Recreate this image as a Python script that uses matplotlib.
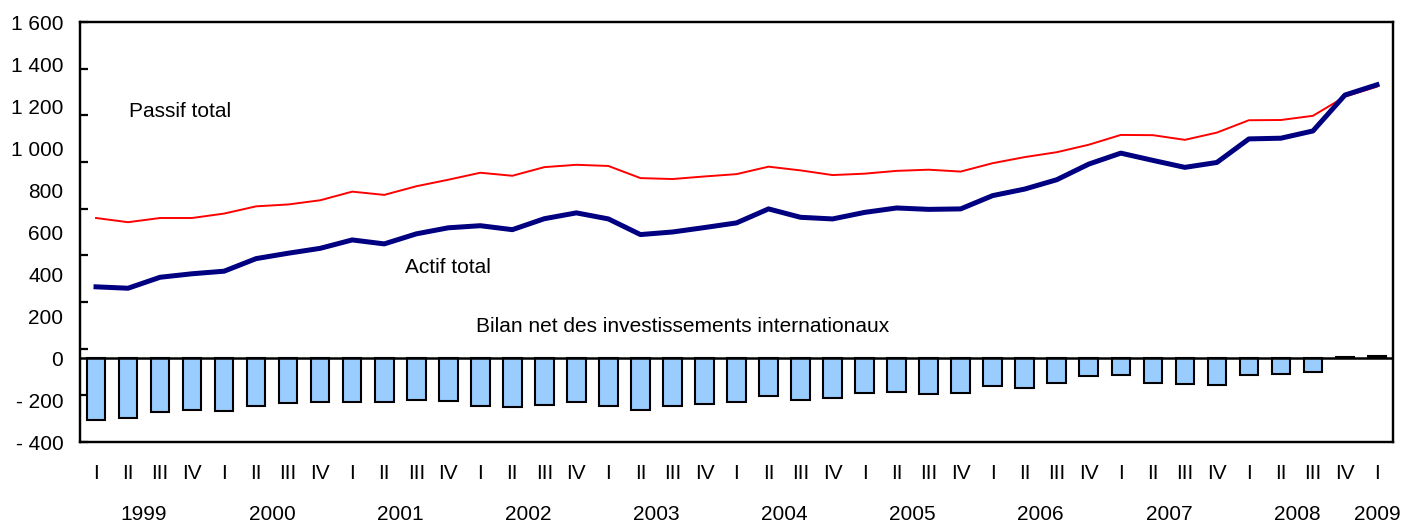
import matplotlib.pyplot as plt
import numpy as np
from matplotlib.ticker import NullFormatter

plt.rcParams['font.family'] = ['Liberation Sans', 'DejaVu Sans']

# quarterly data, 1999 Q1 -> 2009 Q1
quarters = ["I", "II", "III", "IV"] * 10 + ["I"]
years = ["1999", "2000", "2001", "2002", "2003", "2004",
         "2005", "2006", "2007", "2008", "2009"]

passif = [560, 542, 560, 560, 579, 610, 618, 636, 673, 659,
          696, 724, 754, 741, 778, 788, 783, 731, 727, 738,
          748, 780, 764, 744, 750, 762, 767, 759, 795, 821,
          842, 874, 916, 915, 895, 926, 979, 980, 998, 1080,
          1123]
actif = [265, 259, 306, 321, 332, 386, 409, 430, 466, 449,
         492, 518, 527, 510, 557, 582, 556, 489, 500, 519,
         539, 599, 563, 556, 584, 603, 597, 599, 656, 684,
         724, 791, 838, 807, 777, 798, 899, 902, 933, 1087,
         1131]
bilan = [-295, -286, -258, -248, -250, -229, -214, -210, -210, -211,
         -200, -205, -229, -232, -222, -210, -230, -246, -230, -218,
         -210, -183, -202, -192, -167, -160, -171, -165, -135, -143,
         -119, -88, -80, -118, -124, -129, -80, -78, -67, 7,
         10]

ylabels = ["- 400", "- 200", "0", "200", "400", "600", "800",
           "1 000", "1 200", "1 400", "1 600"]

x = np.arange(len(quarters))

fig = plt.figure(figsize=(14.03, 5.24), dpi=100)
ax = fig.add_axes([80 / 1403, 82 / 524, 1313 / 1403, 420 / 524])

# bars on the primary (labelled) axis
ax.bar(x, bilan, width=0.58, color="#99CCFF", edgecolor="black", linewidth=1.5, zorder=2)
ax.axhline(0, color="black", linewidth=1.8, zorder=3)
ax.set_xlim(-0.5, len(x) - 0.5)
ax.set_ylim(-400, 1600)
ax.set_yticks(np.arange(-400, 1601, 200))
ax.set_yticklabels(ylabels)
ax.tick_params(axis="y", length=0, pad=12, labelsize=15)
ax.set_xticks(x)
ax.set_xticklabels(quarters)
ax.tick_params(axis="x", length=0, pad=16, labelsize=15)
for s in ax.spines.values():
    s.set_linewidth(1.6)

# year labels under the quarters
year_pos = [i * 4 + 1.5 for i in range(10)] + [40]
for xp, yr in zip(year_pos, years):
    ax.annotate(yr, xy=(xp, 0), xycoords=("data", "axes fraction"),
                xytext=(0, -52), textcoords="offset points",
                ha="center", va="center", fontsize=15)

# lines on a secondary scale, its ticks shown on the left spine
ax2 = ax.twinx()
ax2.plot(x, passif, color="#FF0000", linewidth=1.4, zorder=4)
ax2.plot(x, actif, color="#000080", linewidth=3.6, zorder=5)
ax2.set_ylim(-400, 1400)
ax2.set_yticks(np.arange(-400, 1401, 200))
ax2.yaxis.set_ticks_position("left")
ax2.yaxis.set_major_formatter(NullFormatter())
ax2.tick_params(axis="y", direction="in", length=6, width=1.6)
for s in ax2.spines.values():
    s.set_linewidth(1.6)

ax.text(1.03, 1176, "Passif total", fontsize=15, va="center")
ax.text(9.66, 429, "Actif total", fontsize=15, va="center")
ax.text(11.88, 148, "Bilan net des investissements internationaux", fontsize=15, va="center")

fig.savefig("out.png", dpi=100)
